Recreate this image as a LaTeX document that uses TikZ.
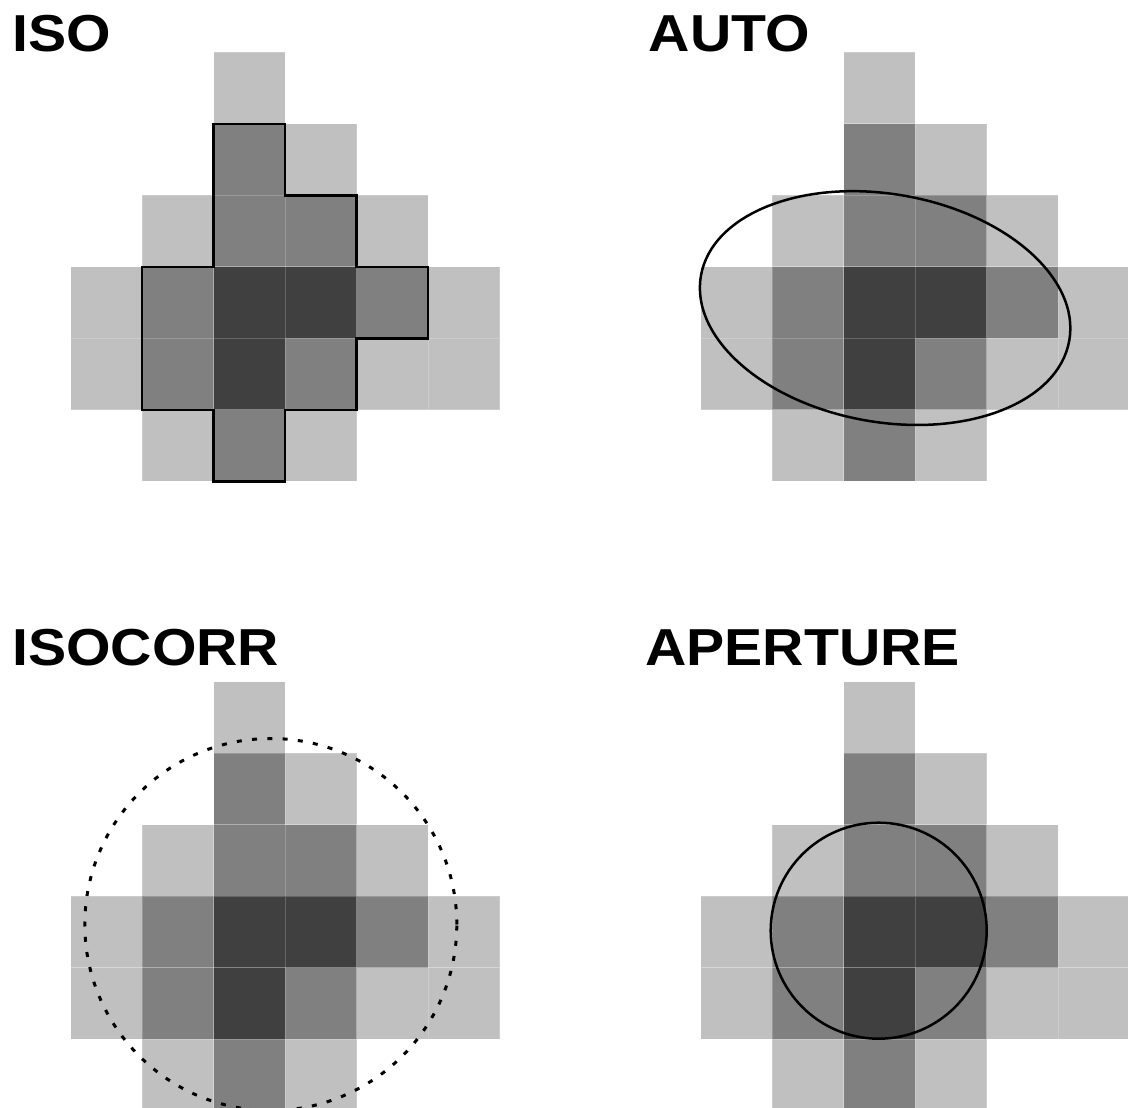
\documentclass[tikz,border=0pt]{standalone}
\usepackage{fontspec}
\setmainfont{Liberation Sans}
\definecolor{pxL}{HTML}{C0C0C0}
\definecolor{pxM}{HTML}{808080}
\definecolor{pxD}{HTML}{404040}
\newcommand\pixpattern{%
  \foreach \c/\r/\s in {2/0/pxL,
      2/1/pxM,3/1/pxL,
      1/2/pxL,2/2/pxM,3/2/pxM,4/2/pxL,
      0/3/pxL,1/3/pxM,2/3/pxD,3/3/pxD,4/3/pxM,5/3/pxL,
      0/4/pxL,1/4/pxM,2/4/pxD,3/4/pxM,4/4/pxL,5/4/pxL,
      1/5/pxL,2/5/pxM,3/5/pxL}
    {\filldraw[fill=\s,draw=white,draw opacity=0.2,line width=0.8pt] (\c*71.5,\r*71.5) rectangle ++(71.5,71.5);}%
}
\begin{document}
\begin{tikzpicture}[x=1pt,y=-1pt,
  title/.style={anchor=base west,inner sep=0pt,font=\bfseries\fontsize{52}{60}\selectfont},
  outline/.style={draw=black,line width=2.5pt,line join=miter},
  dotring/.style={draw=black,line width=3pt,dash pattern=on 5pt off 10.3pt}]
\useasboundingbox (0,0) rectangle (1128,1108);
\clip (0,0) rectangle (1128,1108);
% panels
\begin{scope}[shift={(70.5,52.3)}]
  \pixpattern
  \draw[outline] (2*71.5,1*71.5) -- (3*71.5,1*71.5) -- (3*71.5,2*71.5) -- (4*71.5,2*71.5)
    -- (4*71.5,3*71.5) -- (5*71.5,3*71.5) -- (5*71.5,4*71.5) -- (4*71.5,4*71.5)
    -- (4*71.5,5*71.5) -- (3*71.5,5*71.5) -- (3*71.5,6*71.5) -- (2*71.5,6*71.5)
    -- (2*71.5,5*71.5) -- (1*71.5,5*71.5) -- (1*71.5,3*71.5) -- (2*71.5,3*71.5) -- cycle;
\end{scope}
\begin{scope}[shift={(700.5,52.3)}]
  \pixpattern
\end{scope}
\begin{scope}[shift={(70.5,681.8)}]
  \pixpattern
\end{scope}
\begin{scope}[shift={(700.5,681.8)}]
  \pixpattern
\end{scope}
% apertures
\coordinate (autoc) at (885,308);
\draw[outline,rotate around={-10:(autoc)}] (autoc) ellipse [x radius=187pt,y radius=114pt];
\coordinate (corrc) at (270.8,924.5);
\draw[dotring] (corrc) circle [radius=186pt];
\coordinate (apc) at (878.7,930.7);
\draw[outline] (apc) circle [radius=108pt];
% titles
\node[title] (tiso) at (12,51.7) {\scalebox{1.1}[1]{ISO}};
\node[title] (tauto) at (648.5,51.2) {\scalebox{1.1}[1]{AUTO}};
\node[title] (tcorr) at (12,665) {\scalebox{1.1}[1]{ISOCORR}};
\node[title] (tap) at (645,665) {\scalebox{1.1}[1]{APERTURE}};
\end{tikzpicture}
\end{document}
